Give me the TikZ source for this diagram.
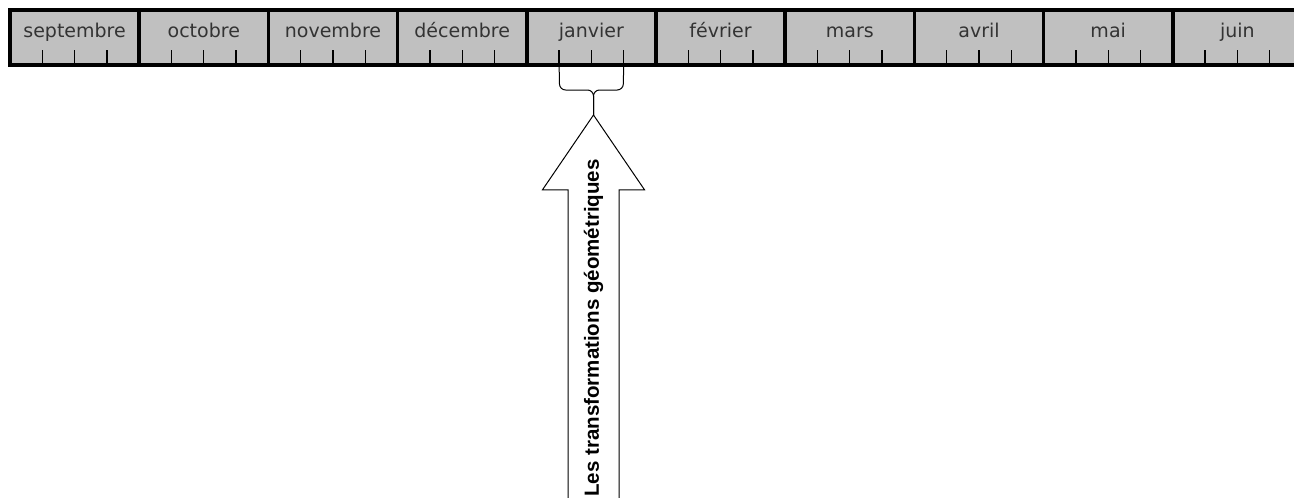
\documentclass[tikz,border=0pt]{standalone}
\usepackage{fontspec}
\setmainfont{DejaVu Sans}
\newfontfamily\labelfont{Liberation Sans}
\usepackage{xcolor}
\usetikzlibrary{
    shapes.arrows,
    positioning,
    calc
}
\definecolor{barfill}{HTML}{C0C0C0}

\begin{document}
\begin{tikzpicture}[
                x=1pt, y=-1pt,
                monthbox/.style={draw, line width=3.5pt, fill=barfill, minimum width=129.2pt, minimum height=55pt, inner sep=0pt, outer sep=0pt},
                monthlabel/.style={font=\fontsize{19}{20}\selectfont, text=black!80, inner sep=0pt, anchor=base},
                monthtick/.style={line width=1.3pt},
                bracepath/.style={line width=1pt, rounded corners=6pt},
                bigarrow/.style={single arrow, draw, line width=1pt, fill=white, rotate=90, inner xsep=0pt, inner ysep=25pt, outer sep=0pt,
                    single arrow head extend=25.5pt, single arrow tip angle=68.6, minimum height=420pt, anchor=tip},
                arrowtext/.style={font=\labelfont\bfseries\fontsize{20.5}{22}\selectfont, rotate=90, inner sep=0pt}
            ]
                \useasboundingbox (0,0) rectangle (1294,498);

                % School year, one box per month
                \foreach \name [count=\i] in {septembre, octobre, novembre, décembre, janvier, février, mars, avril, mai, juin} {
                    \node[monthbox] (m\i) at ({10+129.2*(\i-0.5)}, 37.5) {};
                    \node[monthlabel] (l\i) at ($(m\i.north)+(0,27)$) {\name};
                    % weeks
                    \foreach \k in {1,2,3}
                        \draw[monthtick] ($(m\i.south west)!\k/4!(m\i.south east)$) coordinate (t\i-\k) -- ++(0,-15);
                }

                % Theme arrow
                \node[bigarrow] (arrow) at (593.5, 115) {};
                \node[arrowtext] (theme) at ($(arrow.tip)!0.5!(arrow.tail)+(0,3)$) {Les transformations géométriques};

                % Brace over janvier
                \coordinate (bracemid) at ($(arrow.tip)+(0,-25)$);
                \draw[bracepath] (t5-1) -- ++(0.5,25) -- (bracemid) -- (arrow.tip);
                \draw[bracepath] (t5-3) -- ++(-0.5,25) -- (bracemid) -- (arrow.tip);
            \end{tikzpicture}
\end{document}
